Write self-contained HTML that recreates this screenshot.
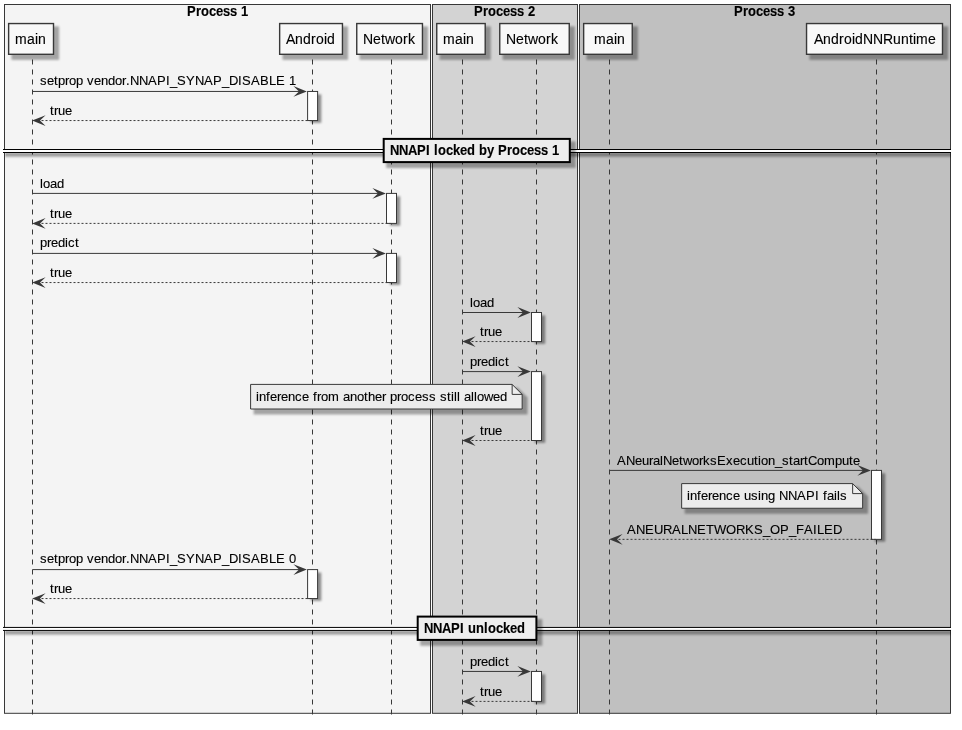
<!DOCTYPE html>
<html><head><meta charset="utf-8"><title>NNAPI locking sequence</title>
<style>
html,body{margin:0;padding:0;background:#FFFFFF;}
svg{display:block;will-change:transform;}
text{font-family:"Liberation Sans",Arial,sans-serif;fill:#000000;stroke:#000000;stroke-width:0.12px;}
</style></head>
<body>
<svg width="962" height="730" viewBox="0 0 962 730">
<defs>
<filter id="sh" filterUnits="userSpaceOnUse" x="0" y="0" width="962" height="730">
<feGaussianBlur stdDeviation="0.8"/>
</filter>
<filter id="sh2" filterUnits="userSpaceOnUse" x="0" y="0" width="962" height="730"><feGaussianBlur stdDeviation="0.95"/></filter>
<clipPath id="dc"><rect x="5.4" y="0" width="945.6" height="730"/></clipPath>
</defs>
<rect x="0" y="0" width="962" height="730" fill="#FFFFFF"/>
<rect x="4.5" y="4.5" width="426.0" height="708.8" fill="#F4F4F4" stroke="#383838" stroke-width="1"/>
<text x="187.00 196.00 201.00 209.00 216.00 223.00 230.00 237.00 241.00" y="0" font-size="13" font-weight="bold" transform="translate(0,16) scale(1,1.07)">Process 1</text>
<rect x="432.5" y="4.5" width="145.0" height="708.8" fill="#D3D3D3" stroke="#383838" stroke-width="1"/>
<text x="474.00 483.00 488.00 496.00 503.00 510.00 517.00 524.00 528.00" y="0" font-size="13" font-weight="bold" transform="translate(0,16) scale(1,1.07)">Process 2</text>
<rect x="579.5" y="4.5" width="371.0" height="708.8" fill="#C0C0C0" stroke="#383838" stroke-width="1"/>
<text x="734.00 743.00 748.00 756.00 763.00 770.00 777.00 784.00 788.00" y="0" font-size="13" font-weight="bold" transform="translate(0,16) scale(1,1.07)">Process 3</text>
<line x1="32.5" y1="59.5" x2="32.5" y2="715" stroke="#383838" stroke-width="1" stroke-dasharray="5,5"/>
<line x1="312.5" y1="59.5" x2="312.5" y2="715" stroke="#383838" stroke-width="1" stroke-dasharray="5,5"/>
<line x1="391.5" y1="59.5" x2="391.5" y2="715" stroke="#383838" stroke-width="1" stroke-dasharray="5,5"/>
<line x1="462.5" y1="59.5" x2="462.5" y2="715" stroke="#383838" stroke-width="1" stroke-dasharray="5,5"/>
<line x1="536.5" y1="59.5" x2="536.5" y2="715" stroke="#383838" stroke-width="1" stroke-dasharray="5,5"/>
<line x1="609.5" y1="59.5" x2="609.5" y2="715" stroke="#383838" stroke-width="1" stroke-dasharray="5,5"/>
<line x1="876.5" y1="59.5" x2="876.5" y2="715" stroke="#383838" stroke-width="1" stroke-dasharray="5,5"/>
<rect x="11.43" y="26.35" width="47.67" height="33.55" fill="#000" fill-opacity="0.33" filter="url(#sh)"/>
<rect x="8.63" y="23.55" width="44.87" height="30.75" fill="#F8F8F8" stroke="#383838" stroke-width="1.4"/>
<text x="15.00 27.00 35.00 38.00" y="44" font-size="14">main</text>
<rect x="282.45" y="26.35" width="65.60" height="33.55" fill="#000" fill-opacity="0.33" filter="url(#sh)"/>
<rect x="279.65" y="23.55" width="62.80" height="30.75" fill="#F8F8F8" stroke="#383838" stroke-width="1.4"/>
<text x="286.00 295.00 303.00 311.00 316.00 324.00 327.00" y="44" font-size="14">Android</text>
<rect x="359.55" y="26.35" width="68.50" height="33.55" fill="#000" fill-opacity="0.33" filter="url(#sh)"/>
<rect x="356.75" y="23.55" width="65.70" height="30.75" fill="#F8F8F8" stroke="#383838" stroke-width="1.4"/>
<text x="363.00 373.00 381.00 385.00 395.00 403.00 408.00" y="44" font-size="14">Network</text>
<rect x="439.55" y="26.35" width="51.25" height="33.55" fill="#000" fill-opacity="0.33" filter="url(#sh)"/>
<rect x="436.75" y="23.55" width="48.45" height="30.75" fill="#F8F8F8" stroke="#383838" stroke-width="1.4"/>
<text x="443.00 455.00 463.00 466.00" y="44" font-size="14">main</text>
<rect x="502.55" y="26.35" width="72.30" height="33.55" fill="#000" fill-opacity="0.33" filter="url(#sh)"/>
<rect x="499.75" y="23.55" width="69.50" height="30.75" fill="#F8F8F8" stroke="#383838" stroke-width="1.4"/>
<text x="506.00 516.00 524.00 528.00 538.00 546.00 551.00" y="44" font-size="14">Network</text>
<rect x="586.45" y="26.35" width="51.40" height="33.55" fill="#000" fill-opacity="0.33" filter="url(#sh)"/>
<rect x="583.65" y="23.55" width="48.60" height="30.75" fill="#F8F8F8" stroke="#383838" stroke-width="1.4"/>
<text x="594.00 606.00 614.00 617.00" y="44" font-size="14">main</text>
<rect x="809.35" y="26.35" width="138.75" height="33.55" fill="#000" fill-opacity="0.33" filter="url(#sh)"/>
<rect x="806.55" y="23.55" width="135.95" height="30.75" fill="#F8F8F8" stroke="#383838" stroke-width="1.4"/>
<text x="814.00 823.00 831.00 839.00 844.00 852.00 855.00 863.00 873.00 883.00 893.00 901.00 909.00 913.00 916.00 928.00" y="44" font-size="14">AndroidNNRuntime</text>
<rect x="310.90" y="94.35" width="10.40" height="28.50" fill="#000" fill-opacity="0.42" filter="url(#sh2)"/>
<rect x="307.6" y="91.45" width="10" height="29.099999999999994" fill="#FFFFFF" stroke="#383838" stroke-width="1"/>
<rect x="389.80" y="196.30" width="10.40" height="29.40" fill="#000" fill-opacity="0.42" filter="url(#sh2)"/>
<rect x="386.5" y="193.4" width="10" height="30.0" fill="#FFFFFF" stroke="#383838" stroke-width="1"/>
<rect x="389.80" y="256.30" width="10.40" height="28.55" fill="#000" fill-opacity="0.42" filter="url(#sh2)"/>
<rect x="386.5" y="253.4" width="10" height="29.150000000000006" fill="#FFFFFF" stroke="#383838" stroke-width="1"/>
<rect x="534.80" y="315.40" width="10.40" height="28.46" fill="#000" fill-opacity="0.42" filter="url(#sh2)"/>
<rect x="531.5" y="312.5" width="10" height="29.060000000000002" fill="#FFFFFF" stroke="#383838" stroke-width="1"/>
<rect x="534.80" y="374.50" width="10.40" height="68.30" fill="#000" fill-opacity="0.42" filter="url(#sh2)"/>
<rect x="531.5" y="371.6" width="10" height="68.89999999999998" fill="#FFFFFF" stroke="#383838" stroke-width="1"/>
<rect x="874.80" y="473.30" width="10.40" height="68.35" fill="#000" fill-opacity="0.42" filter="url(#sh2)"/>
<rect x="871.5" y="470.4" width="10" height="68.95000000000005" fill="#FFFFFF" stroke="#383838" stroke-width="1"/>
<rect x="310.90" y="572.50" width="10.40" height="28.36" fill="#000" fill-opacity="0.42" filter="url(#sh2)"/>
<rect x="307.6" y="569.6" width="10" height="28.959999999999923" fill="#FFFFFF" stroke="#383838" stroke-width="1"/>
<rect x="534.80" y="674.35" width="10.40" height="29.35" fill="#000" fill-opacity="0.42" filter="url(#sh2)"/>
<rect x="531.5" y="671.45" width="10" height="29.949999999999932" fill="#FFFFFF" stroke="#383838" stroke-width="1"/>
<polygon points="293.40,86.05 306.85,91.45 293.40,96.85 299.00,91.45" fill="#383838"/>
<line x1="32.5" y1="91.45" x2="301.5" y2="91.45" stroke="#383838" stroke-width="1"/>
<text x="40.00 47.00 54.00 58.00 65.00 69.00 76.00 83.00 87.00 94.00 101.00 108.00 115.00 122.00 126.00 130.00 139.00 148.00 157.00 166.00 170.00 177.00 186.00 195.00 204.00 213.00 222.00 229.00 238.00 242.00 251.00 260.00 269.00 276.00 285.00 289.00" y="85" font-size="13">setprop vendor.NNAPI_SYNAP_DISABLE 1</text>
<polygon points="45.60,115.15 32.15,120.55 45.60,125.95 40.00,120.55" fill="#383838"/>
<line x1="37.5" y1="120.55" x2="311.5" y2="120.55" stroke="#383838" stroke-width="1" stroke-dasharray="2,2"/>
<text x="50.00 54.00 58.00 65.00" y="115" font-size="13">true</text>
<polygon points="372.40,188.00 385.85,193.4 372.40,198.80 378.00,193.4" fill="#383838"/>
<line x1="32.5" y1="193.4" x2="380.5" y2="193.4" stroke="#383838" stroke-width="1"/>
<text x="40.00 43.00 50.00 57.00" y="188" font-size="13">load</text>
<polygon points="45.60,218.00 32.15,223.4 45.60,228.80 40.00,223.4" fill="#383838"/>
<line x1="37.5" y1="223.4" x2="390.5" y2="223.4" stroke="#383838" stroke-width="1" stroke-dasharray="2,2"/>
<text x="50.00 54.00 58.00 65.00" y="218" font-size="13">true</text>
<polygon points="372.40,248.00 385.85,253.4 372.40,258.80 378.00,253.4" fill="#383838"/>
<line x1="32.5" y1="253.4" x2="380.5" y2="253.4" stroke="#383838" stroke-width="1"/>
<text x="40.00 47.00 51.00 58.00 65.00 68.00 75.00" y="247" font-size="13">predict</text>
<polygon points="45.60,277.15 32.15,282.55 45.60,287.95 40.00,282.55" fill="#383838"/>
<line x1="37.5" y1="282.55" x2="390.5" y2="282.55" stroke="#383838" stroke-width="1" stroke-dasharray="2,2"/>
<text x="50.00 54.00 58.00 65.00" y="277" font-size="13">true</text>
<polygon points="517.40,307.10 530.85,312.5 517.40,317.90 523.00,312.5" fill="#383838"/>
<line x1="462.5" y1="312.5" x2="525.5" y2="312.5" stroke="#383838" stroke-width="1"/>
<text x="470.00 473.00 480.00 487.00" y="307" font-size="13">load</text>
<polygon points="475.60,336.16 462.15,341.56 475.60,346.96 470.00,341.56" fill="#383838"/>
<line x1="467.5" y1="341.56" x2="535.5" y2="341.56" stroke="#383838" stroke-width="1" stroke-dasharray="2,2"/>
<text x="480.00 484.00 488.00 495.00" y="336" font-size="13">true</text>
<polygon points="517.40,366.20 530.85,371.6 517.40,377.00 523.00,371.6" fill="#383838"/>
<line x1="462.5" y1="371.6" x2="525.5" y2="371.6" stroke="#383838" stroke-width="1"/>
<text x="470.00 477.00 481.00 488.00 495.00 498.00 505.00" y="366" font-size="13">predict</text>
<path d="M253.6,387.4 L253.6,414.4 L527.55,414.4 L527.55,397.4 L517.55,387.4 Z" fill="#000" fill-opacity="0.33" filter="url(#sh)"/>
<path d="M250.6,384.4 L250.6,409.0 L522.15,409.0 L522.15,394.4 L512.15,384.4 Z" fill="#ECECEC" stroke="#383838" stroke-width="1"/>
<path d="M512.15,384.4 L512.15,394.4 L522.15,394.4" fill="none" stroke="#383838" stroke-width="1"/>
<text x="256.00 259.00 266.00 270.00 277.00 281.00 288.00 295.00 302.00 309.00 313.00 317.00 321.00 328.00 339.00 343.00 350.00 357.00 364.00 368.00 375.00 382.00 386.00 390.00 397.00 401.00 408.00 415.00 422.00 429.00 436.00 440.00 447.00 451.00 454.00 457.00 460.00 464.00 471.00 474.00 477.00 484.00 493.00 500.00" y="401" font-size="13">inference from another process still allowed</text>
<polygon points="475.60,435.10 462.15,440.5 475.60,445.90 470.00,440.5" fill="#383838"/>
<line x1="467.5" y1="440.5" x2="535.5" y2="440.5" stroke="#383838" stroke-width="1" stroke-dasharray="2,2"/>
<text x="480.00 484.00 488.00 495.00" y="435" font-size="13">true</text>
<polygon points="857.40,465.00 870.85,470.4 857.40,475.80 863.00,470.4" fill="#383838"/>
<line x1="609.5" y1="470.4" x2="865.5" y2="470.4" stroke="#383838" stroke-width="1"/>
<text x="617.00 626.00 635.00 642.00 649.00 653.00 660.00 663.00 672.00 679.00 683.00 692.00 699.00 703.00 710.00 717.00 726.00 733.00 740.00 747.00 754.00 758.00 761.00 768.00 775.00 782.00 789.00 793.00 800.00 804.00 808.00 817.00 824.00 835.00 842.00 849.00 853.00" y="465" font-size="13">ANeuralNetworksExecution_startCompute</text>
<path d="M684.65,486.6 L684.65,513.65 L868.05,513.65 L868.05,496.6 L858.05,486.6 Z" fill="#000" fill-opacity="0.33" filter="url(#sh)"/>
<path d="M681.65,483.6 L681.65,508.25 L862.65,508.25 L862.65,493.6 L852.65,483.6 Z" fill="#ECECEC" stroke="#383838" stroke-width="1"/>
<path d="M852.65,483.6 L852.65,493.6 L862.65,493.6" fill="none" stroke="#383838" stroke-width="1"/>
<text x="687.00 690.00 697.00 701.00 708.00 712.00 719.00 726.00 733.00 740.00 744.00 751.00 758.00 761.00 768.00 775.00 779.00 788.00 797.00 806.00 815.00 819.00 823.00 827.00 834.00 837.00 840.00" y="500" font-size="13">inference using NNAPI fails</text>
<polygon points="622.60,533.95 609.15,539.35 622.60,544.75 617.00,539.35" fill="#383838"/>
<line x1="614.5" y1="539.35" x2="875.5" y2="539.35" stroke="#383838" stroke-width="1" stroke-dasharray="2,2"/>
<text x="627.00 636.00 645.00 654.00 663.00 672.00 681.00 688.00 697.00 706.00 714.00 726.00 736.00 745.00 754.00 763.00 770.00 780.00 789.00 796.00 804.00 813.00 817.00 824.00 833.00" y="534" font-size="13">ANEURALNETWORKS_OP_FAILED</text>
<polygon points="293.40,564.20 306.85,569.6 293.40,575.00 299.00,569.6" fill="#383838"/>
<line x1="32.5" y1="569.6" x2="301.5" y2="569.6" stroke="#383838" stroke-width="1"/>
<text x="40.00 47.00 54.00 58.00 65.00 69.00 76.00 83.00 87.00 94.00 101.00 108.00 115.00 122.00 126.00 130.00 139.00 148.00 157.00 166.00 170.00 177.00 186.00 195.00 204.00 213.00 222.00 229.00 238.00 242.00 251.00 260.00 269.00 276.00 285.00 289.00" y="563" font-size="13">setprop vendor.NNAPI_SYNAP_DISABLE 0</text>
<polygon points="45.60,593.16 32.15,598.56 45.60,603.96 40.00,598.56" fill="#383838"/>
<line x1="37.5" y1="598.56" x2="311.5" y2="598.56" stroke="#383838" stroke-width="1" stroke-dasharray="2,2"/>
<text x="50.00 54.00 58.00 65.00" y="593" font-size="13">true</text>
<polygon points="517.40,666.05 530.85,671.45 517.40,676.85 523.00,671.45" fill="#383838"/>
<line x1="462.5" y1="671.45" x2="525.5" y2="671.45" stroke="#383838" stroke-width="1"/>
<text x="470.00 477.00 481.00 488.00 495.00 498.00 505.00" y="666" font-size="13">predict</text>
<polygon points="475.60,696.00 462.15,701.4 475.60,706.80 470.00,701.4" fill="#383838"/>
<line x1="467.5" y1="701.4" x2="535.5" y2="701.4" stroke="#383838" stroke-width="1" stroke-dasharray="2,2"/>
<text x="480.00 484.00 488.00 495.00" y="696" font-size="13">true</text>
<g clip-path="url(#dc)"><rect x="1" y="152.5" width="960" height="4.2" fill="#000" fill-opacity="0.36" filter="url(#sh)"/></g><rect x="3" y="149.5" width="948" height="3" fill="#FFFFFF"/>
<line x1="3" y1="149.5" x2="951" y2="149.5" stroke="#000000" stroke-width="1"/>
<line x1="3" y1="152.5" x2="951" y2="152.5" stroke="#000000" stroke-width="1"/>
<rect x="386.20" y="141.40" width="189.50" height="26.60" fill="#000" fill-opacity="0.33" filter="url(#sh)"/>
<rect x="383.70" y="138.90" width="186.10" height="23.20" fill="#EEEEEE" stroke="#000000" stroke-width="2"/>
<text x="390.00 399.00 408.00 417.00 426.00 430.00 434.00 438.00 446.00 453.00 460.00 467.00 475.00 479.00 487.00 494.00 498.00 507.00 512.00 520.00 527.00 534.00 541.00 548.00 552.00" y="0" font-size="13" font-weight="bold" transform="translate(0,155) scale(1,1.07)">NNAPI locked by Process 1</text>
<g clip-path="url(#dc)"><rect x="1" y="630.43" width="960" height="4.2" fill="#000" fill-opacity="0.36" filter="url(#sh)"/></g><rect x="3" y="627.43" width="948" height="3" fill="#FFFFFF"/>
<line x1="3" y1="627.43" x2="951" y2="627.43" stroke="#000000" stroke-width="1"/>
<line x1="3" y1="630.43" x2="951" y2="630.43" stroke="#000000" stroke-width="1"/>
<rect x="420.20" y="619.10" width="122.10" height="26.70" fill="#000" fill-opacity="0.33" filter="url(#sh)"/>
<rect x="417.70" y="616.60" width="118.70" height="23.30" fill="#EEEEEE" stroke="#000000" stroke-width="2"/>
<text x="424.00 433.00 442.00 451.00 460.00 464.00 468.00 476.00 484.00 488.00 496.00 503.00 510.00 517.00" y="0" font-size="13" font-weight="bold" transform="translate(0,633) scale(1,1.07)">NNAPI unlocked</text>
</svg>
</body></html>
